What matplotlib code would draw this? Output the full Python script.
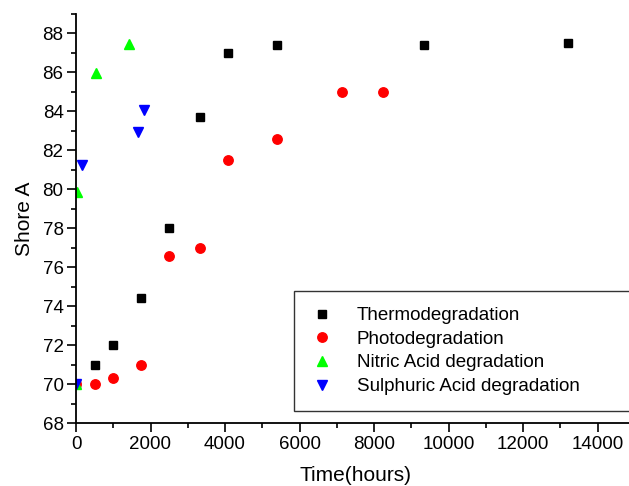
import matplotlib
matplotlib.use("Agg")
import matplotlib.pyplot as plt
from matplotlib.ticker import MultipleLocator

plt.rcParams["font.family"] = ["Liberation Sans", "DejaVu Sans"]

# values
thermo_t = [0, 500, 1000, 1750, 2500, 3336, 4080, 5400, 9336, 13200]
thermo_v = [70, 71, 72, 74.4, 78, 83.7, 87.0, 87.4, 87.4, 87.5]

photo_t = [0, 500, 1000, 1750, 2500, 3336, 4080, 5400, 7130, 8250]
photo_v = [70, 70, 70.3, 71, 76.6, 77.0, 81.5, 82.6, 85.0, 85.0]

nitric_t = [0, 20, 540, 1430]
nitric_v = [70, 79.85, 85.95, 87.45]

sulph_t = [0, 165, 1675, 1835]
sulph_v = [70, 81.25, 82.95, 84.05]

W, H = 629, 486
fig = plt.figure(figsize=(W / 100, H / 100), dpi=100)
ax = fig.add_axes([76 / W, 63 / H, 558.75 / W, 409 / H])

ax.plot(thermo_t, thermo_v, "s", color="black", ms=5.6, label="Thermodegradation")
ax.plot(photo_t, photo_v, "o", color="red", ms=6.8, label="Photodegradation")
ax.plot(nitric_t, nitric_v, "^", color="#00ff00", ms=7.5, label="Nitric Acid degradation")
ax.plot(sulph_t, sulph_v, "v", color="blue", ms=7.5, label="Sulphuric Acid degradation")

ax.set_xlim(0, 15000)
ax.set_ylim(68, 89)
ax.xaxis.set_major_locator(MultipleLocator(2000))
ax.xaxis.set_minor_locator(MultipleLocator(1000))
ax.yaxis.set_major_locator(MultipleLocator(2))
ax.yaxis.set_minor_locator(MultipleLocator(1))
for s in ["top", "right"]:
    ax.spines[s].set_visible(False)
for s in ["left", "bottom"]:
    ax.spines[s].set_linewidth(1.3)
ax.tick_params(which="major", direction="out", length=6.5, width=1.2, labelsize=13.5, pad=2.5)
ax.tick_params(which="minor", direction="out", length=3.3, width=1.2)

ax.set_xlabel("Time(hours)", fontsize=15, labelpad=10)
ax.set_ylabel("Shore A", fontsize=15, labelpad=6)

leg = ax.legend(loc="upper left", bbox_to_anchor=(294 / W, 1 - 291 / H, 0.6, 0),
                bbox_transform=fig.transFigure, mode="expand", borderaxespad=0,
                fontsize=13.5, frameon=True, fancybox=False, labelspacing=0.35,
                handletextpad=1.2, borderpad=0.85, handlelength=1.3, numpoints=1)
leg.get_frame().set_edgecolor("black")
leg.get_frame().set_linewidth(1.0)

fig.savefig("out.png", dpi=100)
